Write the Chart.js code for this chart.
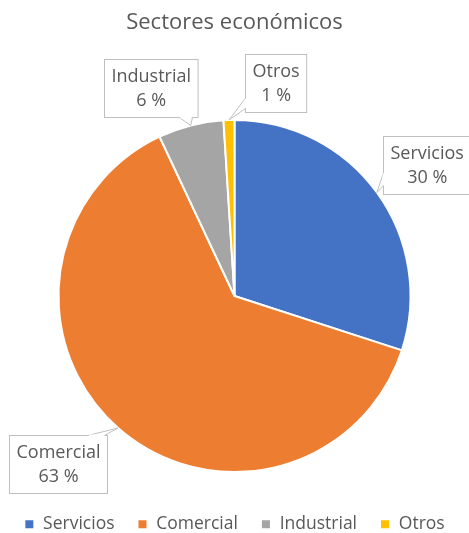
<!DOCTYPE html>
<html lang="es">
<head>
<meta charset="UTF-8">
<title>Sectores económicos</title>
<script src="https://cdn.jsdelivr.net/npm/chart.js"></script>
<style>
  html, body { margin: 0; padding: 0; background: #fff; }
  #wrap { width: 469px; height: 533px; }
</style>
</head>
<body>
<div id="wrap"><canvas id="pieChart"></canvas></div>
<script>
const sectores = ['Servicios', 'Comercial', 'Industrial', 'Otros'];
const porcentajes = [30, 63, 6, 1];
const colores = ['#4472C4', '#ED7D31', '#A5A5A5', '#FFC000'];

// where each callout box sits: centre offset from the slice tip, and the side the wedge leaves from
const callouts = [
    { dx: 50, dy: -27, side: 'left', from: 0.62, to: 0.85 },
    { dx: -60, dy: 36, side: 'top', from: 0.8, to: 0.97 },
    { dx: -40, dy: -37, side: 'bottom', from: 0.8, to: 0.94 },
    { dx: 47, dy: -37, side: 'left', from: 0.75, to: 0.93 }
];

const textColor = '#595959';
const labelFont = '18px "Open Sans"';

const calloutPlugin = {
    id: 'callouts',
    afterDatasetsDraw(chart) {
        const ctx = chart.ctx;
        const meta = chart.getDatasetMeta(0);
        const total = porcentajes.reduce((a, b) => a + b, 0);
        ctx.save();
        ctx.font = labelFont;
        meta.data.forEach((arc, i) => {
            const p = arc.getProps(['x', 'y', 'startAngle', 'endAngle', 'outerRadius'], true);
            const mid = (p.startAngle + p.endAngle) / 2;
            const tipX = p.x + Math.cos(mid) * p.outerRadius;
            const tipY = p.y + Math.sin(mid) * p.outerRadius;
            const c = callouts[i];
            const lines = [sectores[i], Math.round(porcentajes[i] / total * 100) + ' %'];
            const w = Math.max(...lines.map(t => ctx.measureText(t).width)) + 14;
            const h = 58;
            const cx = tipX + c.dx, cy = tipY + c.dy;
            const x0 = Math.round(cx - w / 2) + 0.5, y0 = Math.round(cy - h / 2) + 0.5;

            let a, b;
            if (c.side === 'left') { a = [x0, y0 + h * c.from]; b = [x0, y0 + h * c.to]; }
            else if (c.side === 'right') { a = [x0 + w, y0 + h * c.from]; b = [x0 + w, y0 + h * c.to]; }
            else if (c.side === 'top') { a = [x0 + w * c.from, y0]; b = [x0 + w * c.to, y0]; }
            else { a = [x0 + w * c.from, y0 + h]; b = [x0 + w * c.to, y0 + h]; }

            ctx.fillStyle = '#fff';
            ctx.strokeStyle = '#BFBFBF';
            ctx.lineWidth = 1;
            ctx.fillRect(x0, y0, w, h);
            ctx.strokeRect(x0, y0, w, h);

            // wedge
            ctx.beginPath();
            ctx.moveTo(a[0], a[1]);
            ctx.lineTo(tipX, tipY);
            ctx.lineTo(b[0], b[1]);
            ctx.closePath();
            ctx.fill();
            ctx.beginPath();
            ctx.moveTo(a[0], a[1]);
            ctx.lineTo(tipX, tipY);
            ctx.lineTo(b[0], b[1]);
            ctx.stroke();
            // open the border where the wedge joins
            if (c.side === 'left' || c.side === 'right') ctx.fillRect(a[0] - 1, a[1] + 1, 2, b[1] - a[1] - 2);
            else ctx.fillRect(a[0] + 1, a[1] - 1, b[0] - a[0] - 2, 2);

            ctx.fillStyle = textColor;
            ctx.textAlign = 'center';
            ctx.textBaseline = 'middle';
            ctx.fillText(lines[0], x0 + w / 2, y0 + h / 2 - 12);
            ctx.fillText(lines[1], x0 + w / 2, y0 + h / 2 + 12);
        });
        ctx.restore();
    }
};

new Chart(document.getElementById('pieChart'), {
    type: 'pie',
    data: {
        labels: sectores,
        datasets: [{
            data: porcentajes,
            backgroundColor: colores,
            borderColor: '#fff',
            borderWidth: 2,
            radius: 176
        }]
    },
    options: {
        responsive: true,
        maintainAspectRatio: false,
        animation: false,
        layout: { padding: { bottom: -10 } },
        plugins: {
            title: {
                display: true,
                text: 'Sectores económicos',
                color: textColor,
                font: { family: '"Open Sans"', size: 22, weight: 'normal' },
                padding: { top: 10, bottom: 63 }
            },
            legend: {
                position: 'bottom',
                labels: {
                    color: textColor,
                    font: { family: '"Open Sans"', size: 17.5 },
                    boxWidth: 10,
                    boxHeight: 10,
                    padding: 23
                }
            },
            tooltip: { enabled: false }
        }
    },
    plugins: [calloutPlugin]
});
</script>
</body>
</html>
